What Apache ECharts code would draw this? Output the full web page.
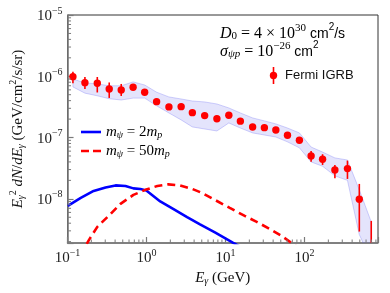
<!DOCTYPE html>
<html><head><meta charset="utf-8">
<style>html,body{margin:0;padding:0;background:#fff}#c{width:390px;height:293px}</style>
<script src="https://cdn.jsdelivr.net/npm/echarts@6/dist/echarts.min.js"></script>
</head><body><div id="c"></div>
<script>
// ---- data ----
const fermiX  = [0.117, 0.166, 0.238, 0.337, 0.478, 0.676, 0.947, 1.34, 1.92, 2.74, 3.8, 5.44, 7.77, 11.0, 15.4, 22, 31, 43.3, 60.8, 86, 121, 169, 242, 349, 493, 698];
const fermiY  = [9.85e-7, 7.87e-7, 7.69e-7, 6.21e-7, 5.98e-7, 6.62e-7, 5.48e-7, 3.85e-7, 3.16e-7, 3.19e-7, 2.55e-7, 2.28e-7, 2.03e-7, 2.31e-7, 1.85e-7, 1.49e-7, 1.45e-7, 1.33e-7, 1.09e-7, 9.04e-8, 5.01e-8, 4.43e-8, 2.96e-8, 3.11e-8, 9.85e-9, 1.4e-9];
const fermiLo = [7.69e-7, 6.21e-7, 5.44e-7, 4.43e-7, 4.77e-7, 6.3e-7, 5.05e-7, 3.6e-7, 2.95e-7, 2.98e-7, 2.38e-7, 2.13e-7, 1.9e-7, 2.16e-7, 1.73e-7, 1.39e-7, 1.35e-7, 1.24e-7, 1.01e-7, 8.4e-8, 4.04e-8, 3.57e-8, 2.17e-8, 2.11e-8, 2.92e-9, 5e-10];
const fermiHi = [1.19e-6, 9.74e-7, 9.74e-7, 7.92e-7, 7.49e-7, 6.95e-7, 5.98e-7, 4.1e-7, 3.38e-7, 3.41e-7, 2.72e-7, 2.44e-7, 2.17e-7, 2.47e-7, 1.98e-7, 1.6e-7, 1.55e-7, 1.42e-7, 1.17e-7, 9.7e-8, 6.04e-8, 5.34e-8, 3.57e-8, 4.2e-8, 1.75e-8, 4.36e-9];

const bandX  = [0.117, 0.166, 0.238, 0.337, 0.478, 0.676, 0.947, 1.34, 1.92, 2.74, 3.8, 5.44, 7.77, 11.0, 15.4, 22, 31, 43.3, 60.8, 86, 121, 169, 242, 349, 493, 698];
const bandHi = [9.0e-7, 7.8e-7, 7.5e-7, 7.0e-7, 7.0e-7, 8.1e-7, 7.2e-7, 5.5e-7, 4.6e-7, 4.26e-7, 3.95e-7, 3.81e-7, 3.53e-7, 3.04e-7, 2.52e-7, 2.09e-7, 1.87e-7, 1.67e-7, 1.43e-7, 1.19e-7, 7.0e-8, 5.8e-8, 4.65e-8, 4.3e-8, 1.4e-8, 4.2e-9];
const bandLo = [6.7e-7, 5.3e-7, 4.8e-7, 4.3e-7, 4.1e-7, 4.4e-7, 4.4e-7, 3.3e-7, 2.52e-7, 1.94e-7, 1.49e-7, 1.38e-7, 1.28e-7, 1.73e-7, 1.43e-7, 1.19e-7, 1.10e-7, 1.02e-7, 8.5e-8, 6.8e-8, 4.0e-8, 3.4e-8, 2.37e-8, 2.0e-8, 2.6e-9, 1.0e-9];

const lightX = [0.1009, 0.147, 0.214, 0.303, 0.405, 0.541, 0.682, 0.836, 0.994, 1.49, 2.17, 3.26, 4.75, 7.33, 12.5, 15.1];
const lightY = [7.66e-9, 1.035e-8, 1.345e-8, 1.535e-8, 1.655e-8, 1.62e-8, 1.48e-8, 1.45e-8, 1.37e-8, 9.07e-9, 6.84e-9, 5.01e-9, 3.82e-9, 2.83e-9, 1.91e-9, 1.67e-9];

const heavyX = [0.175, 0.187, 0.238, 0.351, 0.468, 0.682, 0.966, 1.37, 1.88, 2.66, 3.77, 5.03, 7.33, 11.3, 17.5, 24.8, 36.1, 51.1, 68.2, 81];
const heavyY = [1.84e-9, 2.14e-9, 3.48e-9, 5.67e-9, 8.26e-9, 1.16e-8, 1.40e-8, 1.62e-8, 1.72e-8, 1.655e-8, 1.45e-8, 1.25e-8, 9.6e-9, 7.11e-9, 5.26e-9, 4.2e-9, 3.23e-9, 2.48e-9, 1.91e-9, 1.64e-9];

const xTickExp = [-1, 0, 1, 2];
const xTickLabels = ['\u22121', '0', '1', '2'];
const yTickExp = [-8, -7, -6, -5];
const yTickLabels = ['\u22128', '\u22127', '\u22126', '\u22125'];

// ---- chart ----
const X_MIN = 0.1, X_MAX = 850, Y_MIN = 1.9e-9, Y_MAX = 1e-5;
const serif = 'Liberation Serif';
const sans = 'Liberation Sans';
const ink = '#111';
function mkRich(fs, ss, sf) {
  return {
    i:   {fontFamily: serif, fontStyle: 'italic', fontSize: fs, lineHeight: fs + 3, verticalAlign: 'bottom', color: ink},
    n:   {fontFamily: serif, fontSize: fs, lineHeight: fs + 3, verticalAlign: 'bottom', color: ink},
    sub: {fontFamily: serif, fontSize: ss, lineHeight: ss, verticalAlign: 'bottom', color: ink},
    subi:{fontFamily: serif, fontStyle: 'italic', fontSize: ss, lineHeight: ss, verticalAlign: 'bottom', color: ink},
    sup: {fontFamily: serif, fontSize: ss, lineHeight: ss, verticalAlign: 'top', color: ink},
    sf:  {fontFamily: sans, fontSize: sf, lineHeight: fs + 3, verticalAlign: 'bottom', color: ink},
    sfsup:{fontFamily: sans, fontSize: ss - 1, lineHeight: ss, verticalAlign: 'top', color: ink}
  };
}
const mathRich = mkRich(15, 10, 13);
const noteRich = mkRich(16, 11, 14);
const tickRich = {
  b: {fontFamily: serif, fontSize: 15, lineHeight: 18, verticalAlign: 'bottom', color: '#222'},
  s: {fontFamily: serif, fontSize: 10, lineHeight: 10, verticalAlign: 'top', color: '#222'}
};
function makeFmt(exps, labels) {
  return function (v) {
    const e = Math.log10(v), r = Math.round(e);
    if (Math.abs(e - r) > 1e-6) return '';
    const k = exps.indexOf(r);
    return k < 0 ? '' : '{b|10}{s|' + labels[k] + '}';
  };
}

const minorData = [];
for (let e = -1; e <= 2; e++) for (let m = 2; m <= 9; m++) { const v = m * Math.pow(10, e); if (v < X_MAX) minorData.push([v, Y_MIN, 0]); }
for (let e = -9; e <= -6; e++) for (let m = 2; m <= 9; m++) { const v = m * Math.pow(10, e); if (v > Y_MIN && v < Y_MAX) minorData.push([X_MIN, v, 1]); }

const axisGrey = '#7a7a7a';
const chart = echarts.init(document.getElementById('c'));
chart.setOption({
  animation: false,
  grid: {left: 67, right: 12, top: 15, bottom: 50, show: true, borderColor: '#333', borderWidth: 1},
  xAxis: {
    type: 'log', logBase: 10, min: X_MIN, max: X_MAX,
    axisLine: {show: true, onZero: false, lineStyle: {color: axisGrey, width: 1.6}},
    axisTick: {show: true, inside: true, length: 6, lineStyle: {color: axisGrey, width: 1.2}},
    splitLine: {show: false}, minorTick: {show: false},
    axisLabel: {margin: 5, formatter: makeFmt(xTickExp, xTickLabels), rich: tickRich},
    name: '{i|E}{subi|\u03b3}{n| (GeV)}', nameLocation: 'middle', nameGap: 15,
    nameTextStyle: {rich: mathRich}
  },
  yAxis: {
    type: 'log', logBase: 10, min: Y_MIN, max: Y_MAX,
    axisLine: {show: true, onZero: false, lineStyle: {color: axisGrey, width: 1.6}},
    axisTick: {show: true, inside: true, length: 6, lineStyle: {color: axisGrey, width: 1.2}},
    splitLine: {show: false}, minorTick: {show: false},
    axisLabel: {margin: 5, formatter: makeFmt(yTickExp, yTickLabels), rich: tickRich},
    name: '{i|E}{subi|\u03b3}{sup|2}{i| dN}{n|/}{i|dE}{subi|\u03b3}{n| (GeV/cm}{sup|2}{n|/s/sr)}',
    nameLocation: 'middle', nameGap: 36, nameRotate: 90,
    nameTextStyle: {rich: mathRich}
  },
  series: [
    {
      type: 'custom', name: 'band', clip: true, z: 1,
      data: [[bandX[0], bandHi[0]]],
      renderItem: function (params, api) {
        const pts = [];
        for (let i = 0; i < bandX.length; i++) pts.push(api.coord([bandX[i], bandHi[i]]));
        for (let i = bandX.length - 1; i >= 0; i--) pts.push(api.coord([bandX[i], bandLo[i]]));
        return {type: 'polygon', shape: {points: pts}, style: {fill: 'rgba(95,95,240,0.17)', stroke: 'rgba(95,95,240,0.28)', lineWidth: 1}};
      }
    },
    {
      type: 'line', name: 'm2', z: 3, showSymbol: false, clip: true,
      data: lightX.map((x, i) => [x, lightY[i]]),
      lineStyle: {color: '#0000ff', width: 2.6}
    },
    {
      type: 'line', name: 'm50', z: 3, showSymbol: false, clip: true,
      data: heavyX.map((x, i) => [x, heavyY[i]]),
      lineStyle: {color: '#ff0000', width: 2.6, type: [8, 5]}
    },
    {
      type: 'custom', name: 'Fermi IGRB', clip: true, z: 5,
      data: fermiX.map((x, i) => [x, fermiY[i], fermiLo[i], fermiHi[i]]),
      encode: {x: 0, y: 1},
      renderItem: function (params, api) {
        const x = api.value(0);
        const c = api.coord([x, api.value(1)]);
        const a = api.coord([x, api.value(2)]);
        const b = api.coord([x, api.value(3)]);
        return {type: 'group', children: [
          {type: 'line', shape: {x1: a[0], y1: a[1], x2: b[0], y2: b[1]}, style: {stroke: '#ff0000', lineWidth: 1.6}},
          {type: 'circle', shape: {cx: c[0], cy: c[1], r: 3.7}, style: {fill: '#ff0000'}}
        ]};
      }
    },
    {
      type: 'custom', name: 'minor', clip: false, z: 6, silent: true,
      data: minorData,
      renderItem: function (params, api) {
        const p = api.coord([api.value(0), api.value(1)]);
        const st = {stroke: axisGrey, lineWidth: 1};
        if (api.value(2) === 0) return {type: 'line', shape: {x1: p[0], y1: p[1], x2: p[0], y2: p[1] - 3.5}, style: st};
        return {type: 'line', shape: {x1: p[0], y1: p[1], x2: p[0] + 3.5, y2: p[1]}, style: st};
      }
    }
  ],
  graphic: [
    {type: 'text', x: 220, y: 32, style: {text: '{i|D}{sub|0}{n| = 4 \u00d7 10}{sup|30}{sf| cm}{sfsup|2}{sf|/s}', rich: noteRich, align: 'left', verticalAlign: 'middle'}},
    {type: 'text', x: 220, y: 50, style: {text: '{i|\u03c3}{subi|\u03c8p}{n| = 10}{sup|\u221226}{sf| cm}{sfsup|2}', rich: noteRich, align: 'left', verticalAlign: 'middle'}},
    {type: 'line', shape: {x1: 273.5, y1: 67, x2: 273.5, y2: 84}, style: {stroke: '#ff0000', lineWidth: 1.6}},
    {type: 'circle', shape: {cx: 273.5, cy: 75.5, r: 3.7}, style: {fill: '#ff0000'}},
    {type: 'text', x: 285, y: 75.5, style: {text: 'Fermi IGRB', fontFamily: sans, fontSize: 13, fill: ink, align: 'left', verticalAlign: 'middle'}},
    {type: 'line', shape: {x1: 81, y1: 132, x2: 101, y2: 132}, style: {stroke: '#0000ff', lineWidth: 2.6}},
    {type: 'text', x: 106, y: 131, style: {text: '{i|m}{subi|\u03c8}{n| = 2}{i|m}{subi|p}', rich: mathRich, align: 'left', verticalAlign: 'middle'}},
    {type: 'line', shape: {x1: 81, y1: 151, x2: 101, y2: 151}, style: {stroke: '#ff0000', lineWidth: 2.6, lineDash: [8, 4]}},
    {type: 'text', x: 106, y: 150, style: {text: '{i|m}{subi|\u03c8}{n| = 50}{i|m}{subi|p}', rich: mathRich, align: 'left', verticalAlign: 'middle'}}
  ]
});
</script>
</body></html>
